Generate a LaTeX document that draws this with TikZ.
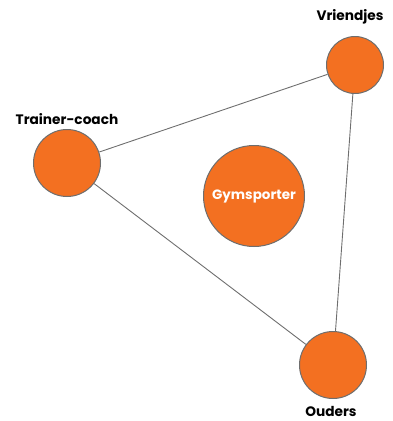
\documentclass[tikz,border=0pt]{standalone}
\usepackage{fontspec}
\setmainfont{Poppins}
\definecolor{orangefill}{HTML}{F37021}
\definecolor{edgegray}{HTML}{6E6E6E}
\begin{document}
\begin{tikzpicture}[x=1pt,y=-1pt,
  ball/.style={circle,fill=orangefill,draw=edgegray,line width=1pt,inner sep=0pt},
  lbl/.style={font=\bfseries\fontsize{13.7}{15}\selectfont,text=black},
  link/.style={draw=edgegray,line width=0.9pt}]
\useasboundingbox (0,0) rectangle (393,421);
\node[ball,minimum size=57pt] (v) at (355,65) {};
\node[ball,minimum size=67pt] (t) at (67,163) {};
\node[ball,minimum size=101pt,text=white,font=\bfseries\fontsize{13.5}{15}\selectfont] (g) at (254,196) {Gymsporter};
\node[ball,minimum size=67pt] (o) at (333,365) {};
\node[lbl] (vl) at (350,17) {Vriendjes};
\node[lbl] (tl) at (67,119) {Trainer-coach};
\node[lbl] (ol) at (331,411) {Ouders};
\draw[link] (t) -- (v);
\draw[link] (v) -- (o);
\draw[link] (t) -- (o);
\end{tikzpicture}
\end{document}
